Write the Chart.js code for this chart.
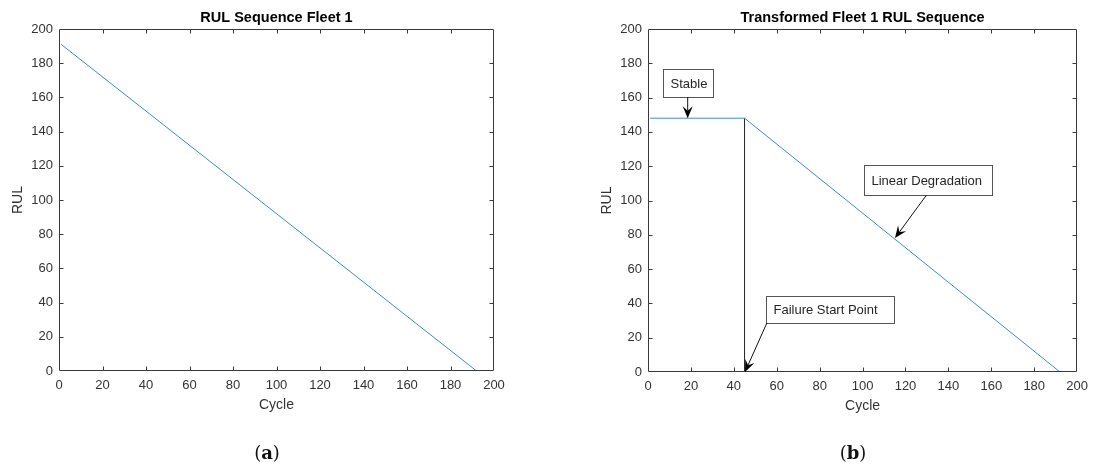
<!DOCTYPE html>
<html>
<head>
<meta charset="utf-8">
<title>Fleet 1 RUL sequences</title>
<script src="https://cdn.jsdelivr.net/npm/chart.js@4/dist/chart.umd.min.js"></script>
<style>
  html, body { margin: 0; padding: 0; background: #fff; }
  body { position: relative; width: 1095px; height: 466px; overflow: hidden; }
  canvas { position: absolute; top: 0; }
  #rawChart { left: 0; }
  #pwChart { left: 547px; }
  .cap {
    position: absolute; top: 441px; width: 60px; text-align: center;
    font-family: "DejaVu Serif", "Liberation Serif", serif; font-size: 18px;
    line-height: 24px; color: #111;
  }
  .cap b { font-weight: bold; }
</style>
</head>
<body>
<canvas id="rawChart" width="547" height="466"></canvas>
<canvas id="pwChart" width="548" height="466"></canvas>
<div class="cap" style="left:237px">(<b>a</b>)</div>
<div class="cap" style="left:823px">(<b>b</b>)</div>
<script>
// ---- data ----
const xTicks = [0, 20, 40, 60, 80, 100, 120, 140, 160, 180, 200];
const yTicks = [0, 20, 40, 60, 80, 100, 120, 140, 160, 180, 200];

// raw RUL: linear countdown over the engine's life
const rawCycles = [1, 192];
const rawRul = [191, 0];

// transformed RUL: constant cap, then linear degradation
const pwCycles = [1, 45, 192];
const pwRul = [148, 148, 0];

// marker for the failure start point
const failCycles = [45, 45];
const failRul = [0, 148];

// ---- styles ----
const SANS = '"Liberation Sans", Arial, Helvetica, sans-serif';
const AXIS_COLOR = '#3a3a3a';
const LABEL_COLOR = '#333333';
const LINE_BLUE = '#3d8cc4';
const TICK_LEN = 4;

Chart.defaults.font.family = SANS;
Chart.defaults.color = LABEL_COLOR;

const toPoints = (xs, ys) => xs.map((v, i) => ({ x: v, y: ys[i] }));

// box outline with inward tick marks on all four sides
const framePlugin = {
  id: 'frame',
  afterDatasetsDraw(chart) {
    const { ctx, chartArea: a, scales: { x, y } } = chart;
    const L = Math.round(a.left) + 0.5, R = Math.round(a.right) - 0.5;
    const T = Math.round(a.top) + 0.5, B = Math.round(a.bottom) - 0.5;
    ctx.save();
    ctx.strokeStyle = AXIS_COLOR;
    ctx.lineWidth = 1;
    ctx.beginPath();
    ctx.rect(L, T, R - L, B - T);
    xTicks.slice(1, -1).forEach(v => {
      const px = Math.round(x.getPixelForValue(v)) + 0.5;
      ctx.moveTo(px, B); ctx.lineTo(px, B - TICK_LEN);
      ctx.moveTo(px, T); ctx.lineTo(px, T + TICK_LEN);
    });
    yTicks.slice(1, -1).forEach(v => {
      const py = Math.round(y.getPixelForValue(v)) + 0.5;
      ctx.moveTo(L, py); ctx.lineTo(L + TICK_LEN, py);
      ctx.moveTo(R, py); ctx.lineTo(R - TICK_LEN, py);
    });
    ctx.stroke();
    ctx.restore();
  }
};

// text boxes with arrows, placed in data coordinates
function calloutPlugin(items) {
  return {
    id: 'callouts',
    afterDraw(chart) {
      const { ctx, scales: { x, y } } = chart;
      ctx.save();
      items.forEach(it => {
        const bx0 = Math.round(x.getPixelForValue(it.box[0])) + 0.5;
        const by0 = Math.round(y.getPixelForValue(it.box[1])) + 0.5;
        const bx1 = Math.round(x.getPixelForValue(it.box[2])) + 0.5;
        const by1 = Math.round(y.getPixelForValue(it.box[3])) + 0.5;
        ctx.fillStyle = '#ffffff';
        ctx.fillRect(bx0, by0, bx1 - bx0, by1 - by0);
        ctx.strokeStyle = '#555555';
        ctx.lineWidth = 1;
        ctx.strokeRect(bx0, by0, bx1 - bx0, by1 - by0);
        ctx.fillStyle = '#262626';
        ctx.font = '13px ' + SANS;
        ctx.textAlign = 'left';
        ctx.textBaseline = 'middle';
        ctx.fillText(it.text, bx0 + 7, (by0 + by1) / 2 + 0.5);

        // arrow shaft
        const tx = x.getPixelForValue(it.from[0]), ty = y.getPixelForValue(it.from[1]);
        const hx = x.getPixelForValue(it.to[0]), hy = y.getPixelForValue(it.to[1]);
        const ang = Math.atan2(hy - ty, hx - tx);
        const len = 12, half = 5, notch = 7.5;
        const ux = Math.cos(ang), uy = Math.sin(ang);
        const nx = -uy, ny = ux;
        ctx.strokeStyle = '#111111';
        ctx.beginPath();
        ctx.moveTo(tx, ty);
        ctx.lineTo(hx - ux * notch, hy - uy * notch);
        ctx.stroke();
        // arrow head
        ctx.fillStyle = '#000000';
        ctx.beginPath();
        ctx.moveTo(hx, hy);
        ctx.lineTo(hx - ux * len + nx * half, hy - uy * len + ny * half);
        ctx.lineTo(hx - ux * notch, hy - uy * notch);
        ctx.lineTo(hx - ux * len - nx * half, hy - uy * len - ny * half);
        ctx.closePath();
        ctx.fill();
      });
      ctx.restore();
    }
  };
}

function axisOptions(xTitle, yTitle) {
  return {
    x: {
      type: 'linear', min: 0, max: 200,
      afterBuildTicks: s => { s.ticks = xTicks.map(v => ({ value: v })); },
      afterFit: s => { s.height = 49; },
      grid: { display: false, drawTicks: false },
      border: { display: false },
      ticks: { padding: 7, color: LABEL_COLOR, font: { size: 13 }, maxRotation: 0, autoSkip: false },
      title: { display: true, text: xTitle, color: LABEL_COLOR, font: { size: 14 }, padding: { top: 0, bottom: 6.6 } }
    },
    y: {
      type: 'linear', min: 0, max: 200,
      afterBuildTicks: s => { s.ticks = yTicks.map(v => ({ value: v })); },
      afterFit: s => { s.width = 59; },
      grid: { display: false, drawTicks: false },
      border: { display: false },
      ticks: { padding: 6, color: LABEL_COLOR, font: { size: 13 }, autoSkip: false },
      title: { display: true, text: yTitle, color: LABEL_COLOR, font: { size: 14 }, padding: { top: 9.6, bottom: 0 } }
    }
  };
}

function baseOptions(title, pad) {
  return {
    responsive: false,
    animation: false,
    devicePixelRatio: 1,
    layout: { padding: pad },
    plugins: {
      legend: { display: false },
      tooltip: { enabled: false },
      title: {
        display: true, text: title, fullSize: false, color: '#000',
        font: { size: 14.5, weight: 'bold' }, padding: { top: 9.3, bottom: 2.3 }
      }
    },
    scales: axisOptions('Cycle', 'RUL')
  };
}

const lineDefaults = { showLine: true, pointRadius: 0, fill: false, tension: 0 };

new Chart(document.getElementById('rawChart'), {
  type: 'scatter',
  data: {
    datasets: [
      Object.assign({ label: 'RUL', data: toPoints(rawCycles, rawRul), borderColor: LINE_BLUE, borderWidth: 1 }, lineDefaults)
    ]
  },
  options: baseOptions('RUL Sequence Fleet 1', { left: 0, right: 53, top: 0, bottom: 46 }),
  plugins: [framePlugin]
});

new Chart(document.getElementById('pwChart'), {
  type: 'scatter',
  data: {
    datasets: [
      Object.assign({ label: 'Transformed RUL', data: toPoints(pwCycles, pwRul), borderColor: LINE_BLUE, borderWidth: 1 }, lineDefaults),
      Object.assign({ label: 'Failure start', data: toPoints(failCycles, failRul), borderColor: '#222222', borderWidth: 1 }, lineDefaults)
    ]
  },
  options: baseOptions('Transformed Fleet 1 RUL Sequence', { left: 42, right: 14, top: 0, bottom: 45 }),
  plugins: [framePlugin, calloutPlugin([
    { text: 'Stable', box: [7.1, 176.7, 30.1, 160.3], from: [18.5, 160.3], to: [18.5, 148] },
    { text: 'Linear Degradation', box: [100.7, 120.7, 160.3, 103.2], from: [129.8, 103.2], to: [115.1, 78.1] },
    { text: 'Failure Start Point', box: [55.1, 44.3, 114.6, 28.6], from: [55.4, 28.6], to: [45.2, 0] }
  ])]
});
</script>
</body>
</html>
